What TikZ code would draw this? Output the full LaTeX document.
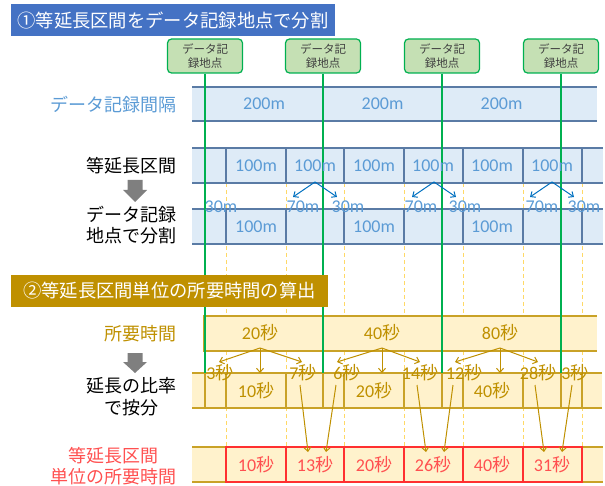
\documentclass[tikz,border=0pt]{standalone}
\usepackage{fontspec}
\setmainfont{Carlito}
\newfontfamily\jp{Noto Sans CJK JP}
\newcommand\byo{{\jp 秒}}
\usetikzlibrary{arrows.meta}
\definecolor{tblue}{HTML}{4472C4}
\definecolor{rowblue}{HTML}{DEEBF7}
\definecolor{lineblue}{HTML}{5A7BA5}
\definecolor{txtblue}{HTML}{5B9BD5}
\definecolor{arrblue}{HTML}{0070C0}
\definecolor{grn}{HTML}{00B050}
\definecolor{grnfill}{HTML}{C5E0B4}
\definecolor{gold}{HTML}{BF9000}
\definecolor{tanfill}{HTML}{FFF2CC}
\definecolor{tanline}{HTML}{C9A227}
\definecolor{dashy}{HTML}{FFD966}
\definecolor{redtxt}{HTML}{FF5050}
\definecolor{redline}{HTML}{FF3030}
\definecolor{arrgray}{HTML}{7F7F7F}
\definecolor{boxtxt}{HTML}{404040}
\begin{document}
\begin{tikzpicture}[x=1pt,y=-1pt,
  lbl/.style={inner sep=0pt, font=\fontsize{18}{21}\selectfont},
  bluelbl/.style={lbl, text=txtblue},
  goldlbl/.style={lbl, text=gold},
  redlbl/.style={lbl, text=redtxt},
  leftlbl/.style={inner sep=0pt, anchor=east, align=center, font=\fontsize{18}{21}\selectfont\jp},
  rowline/.style={draw=lineblue, line width=1.1pt},
  tanrow/.style={draw=tanline, line width=1.1pt},
  redrow/.style={draw=redline, line width=1.1pt},
  gline/.style={draw=grn, line width=2pt},
  dashv/.style={draw=dashy, line width=1pt, dash pattern=on 4pt off 3pt},
  barrow/.style={draw=arrblue, line width=1pt, -{Straight Barb[length=4pt,width=7pt]}},
  garrow/.style={draw=gold, line width=1pt, -{Straight Barb[length=4pt,width=7pt]}},
  gbox/.style={draw=grn, fill=grnfill, rounded corners=4pt, line width=1.2pt, minimum width=75pt, minimum height=34pt, inner sep=0pt, align=center, font=\fontsize{11.5}{14}\selectfont\jp, text=boxtxt},
  ttl/.style={text=white, minimum height=32pt, inner sep=0pt, font=\fontsize{18.3}{22}\selectfont\jp},
  grayarr/.style={fill=arrgray}
]
\useasboundingbox (0,0) rectangle (605,486);
% yellow dashed guide lines
\foreach \x in {226,286,344,404,463,523,582} \draw[dashv] (\x,183) -- (\x,447);
% row 1
\fill[rowblue] (192,87) rectangle (597,121);
\draw[rowline] (192,87) -- (597,87) (192,121) -- (597,121);
% row 2
\fill[rowblue] (192,148) rectangle (603,183);
\draw[rowline] (192,148) -- (603,148) (192,183) -- (603,183);
\foreach \x in {226,286,344,404,463,523,582} \draw[rowline] (\x,148) -- (\x,183);
% row 3
\fill[rowblue] (192,209) rectangle (603,244);
\draw[rowline] (192,209) -- (603,209) (192,244) -- (603,244);
\foreach \x in {205,226,286,323,344,404,442,463,523,561,582} \draw[rowline] (\x,209) -- (\x,244);
% row 4
\fill[tanfill] (204,316) rectangle (597,351);
\draw[tanrow] (597,316) -- (204,316) -- (204,351) -- (597,351);
\foreach \x in {323,442,561} \draw[tanrow] (\x,316) -- (\x,351);
% row 5
\fill[tanfill] (192,373) rectangle (602,408);
\draw[tanrow] (192,373) -- (602,373) (192,408) -- (602,408);
\foreach \x in {205,226,286,323,344,404,442,463,523,561,582} \draw[tanrow] (\x,373) -- (\x,408);
% row 6
\fill[tanfill] (192,447) rectangle (603,482);
\draw[tanrow] (192,447) -- (226,447) (192,482) -- (226,482) (582,447) -- (603,447) (582,482) -- (603,482);
\draw[redrow] (226,447) rectangle (582,482);
\foreach \x in {286,344,404,463,523} \draw[redrow] (\x,447) -- (\x,482);
% data recording points
\foreach \x/\n in {205/1,323/2,442/3,561/4} {
  \node[gbox] (g\n) at (\x,56) {データ記\\録地点};
  \coordinate (ge\n) at (\x,373);
  \draw[gline] (g\n.south) -- (ge\n);
}
% titles
\node[ttl, fill=tblue, minimum width=324pt] (t1) at (173,20) {①等延長区間をデータ記録地点で分割};
\node[ttl, fill=gold, minimum width=317pt] (t2) at (169.5,291) {②等延長区間単位の所要時間の算出};
% left labels
\node[leftlbl, text=txtblue] (L1) at (177,105) {データ記録間隔};
\node[leftlbl, text=black] (L2) at (177,166) {等延長区間};
\node[leftlbl, text=black] (L3) at (177,225) {データ記録\\地点で分割};
\node[leftlbl, text=gold] (L4) at (177,334) {所要時間};
\node[leftlbl, text=black, font=\fontsize{18}{22}\selectfont\jp] (L5) at (177,397) {延長の比率\\で按分};
\node[leftlbl, text=redtxt] (L6) at (177,466) {等延長区間\\単位の所要時間};
% gray block arrows
\fill[grayarr] (127.5,180) -- (142.5,180) -- (142.5,190) -- (147,190) -- (135,202) -- (123,190) -- (127.5,190) -- cycle;
\fill[grayarr] (127.5,353) -- (142.5,353) -- (142.5,362) -- (147,362) -- (135,373) -- (123,362) -- (127.5,362) -- cycle;
% row 1 labels
\foreach \x/\n in {264/1,382.5/2,501.5/3} \node[bluelbl] (d\n) at (\x,104) {200m};
% row 2 labels
\foreach \x/\n in {256/1,315/2,374/3,433/4,492/5,552/6} \node[bluelbl] (e\n) at (\x,166) {100m};
% row 3 labels
\foreach \x/\n in {256/1,374/2,492/3} \node[bluelbl] (f\n) at (\x,227) {100m};
\foreach \x/\t/\n in {221/30m/1,303/70m/2,348/30m/3,421/70m/4,465/30m/5,542/70m/6,584/30m/7} \node[bluelbl] (s\n) at (\x,207) {\t};
% blue split arrows
\foreach \n/\x in {1/315,2/434,3/552} {
  \coordinate (ba\n) at (\x,182);
  \coordinate (bl\n) at (\x-22,197);
  \coordinate (br\n) at (\x+22,197);
  \draw[barrow] (ba\n) -- (bl\n);
  \draw[barrow] (ba\n) -- (br\n);
}
% row 4 labels
\node[goldlbl] (h1) at (260,333) {20\byo};
\node[goldlbl] (h2) at (382,333) {40\byo};
\node[goldlbl] (h3) at (500,333) {80\byo};
% gold split arrows
\foreach \n/\x/\l/\r in {1/260/219/302,2/382/337/420,3/500/455/538} {
  \coordinate (ga\n) at (\x,348);
  \coordinate (gl\n) at (\l,362);
  \coordinate (gm\n) at (\x,373);
  \coordinate (gr\n) at (\r,362);
  \draw[garrow] (ga\n) -- (gl\n);
  \draw[garrow] (ga\n) -- (gm\n);
  \draw[garrow] (ga\n) -- (gr\n);
}
% row 5 labels
\node[goldlbl] (p1) at (220,373) {3\byo};
\node[goldlbl] (p2) at (303,373) {7\byo};
\node[goldlbl] (p3) at (347,373) {6\byo};
\node[goldlbl] (p4) at (420,373) {14\byo};
\node[goldlbl] (p5) at (464,373) {12\byo};
\node[goldlbl] (p6) at (538,373) {28\byo};
\node[goldlbl] (p7) at (575,373) {3\byo};
\node[goldlbl] (q1) at (256,391) {10\byo};
\node[goldlbl] (q2) at (374,391) {20\byo};
\node[goldlbl] (q3) at (492,391) {40\byo};
% row 6 labels
\foreach \x/\t/\n in {256/10/1,315/13/2,374/20/3,433/26/4,492/40/5,552/31/6} \node[redlbl] (r\n) at (\x,465) {\t\byo};
% merging arrows
\foreach \n/\a/\b in {2/300/308,3/336/326,4/417/426,5/453/444,6/535/544,7/572/562} {
  \coordinate (ms\n) at (\a,385);
  \coordinate (mt\n) at (\b,452);
  \draw[garrow] (ms\n) -- (mt\n);
}
\end{tikzpicture}
\end{document}
